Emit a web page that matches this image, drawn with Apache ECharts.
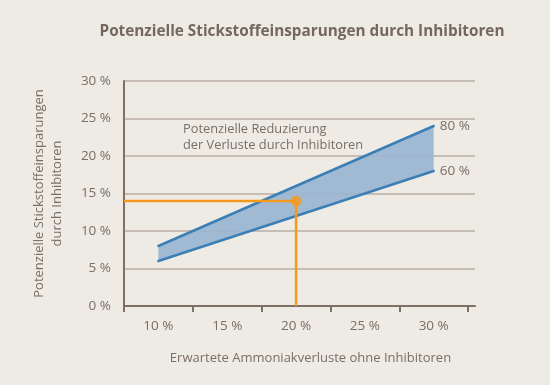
<!DOCTYPE html>
<html>
<head>
<meta charset="utf-8">
<script src="https://cdn.jsdelivr.net/npm/echarts@6/dist/echarts.min.js"></script>
<style>
html,body{margin:0;padding:0;background:#eeebe5;}
#c{width:550px;height:385px;}
</style>
</head>
<body>
<div id="c"></div>
<script>
// Data
var losses = [10, 15, 20, 25, 30];          // expected ammonia losses (%)
var upper80 = [8, 12, 16, 20, 24];          // 80 % reduction
var lower60 = [6, 9, 12, 15, 18];           // 60 % reduction
var xTickLabels = [10, 15, 20, 25, 30];
var xTickMarks = [7.5, 12.5, 17.5, 22.5, 27.5, 32.5];
var examplePoint = [20, 14];
var xMin = 7.5, xMax = 33;

var font = '"Open Sans", Lato, sans-serif';
var textColor = '#7a6e64';
var axisColor = '#7d7166';

var upperData = losses.map(function (x, i) { return [x, upper80[i]]; });
var lowerData = losses.map(function (x, i) { return [x, lower60[i]]; });
var orangePath = [[xMin, examplePoint[1]], examplePoint, [examplePoint[0], 0]];

var chart = echarts.init(document.getElementById('c'));
chart.setOption({
  backgroundColor: '#eeebe5',
  animation: false,
  textStyle: { fontFamily: font },
  title: {
    text: 'Potenzielle Stickstoffeinsparungen durch Inhibitoren',
    left: 297, top: 19, textAlign: 'center',
    textStyle: { fontFamily: font, fontSize: 15.3, fontWeight: 'bold', color: '#74685e' }
  },
  grid: { left: 124, right: 75, top: 81, bottom: 79 },
  xAxis: {
    type: 'value', min: xMin, max: xMax,
    name: 'Erwartete Ammoniakverluste ohne Inhibitoren',
    nameLocation: 'middle', nameGap: 46,
    nameTextStyle: { color: textColor, fontSize: 13, fontFamily: font, padding: [0, 0, 0, 22] },
    axisLine: { show: true, lineStyle: { color: axisColor, width: 2 } },
    axisTick: { show: true, customValues: xTickMarks, length: 6, lineStyle: { color: axisColor, width: 2 } },
    axisLabel: { customValues: xTickLabels, formatter: '{value} %', color: textColor, fontSize: 13.5, margin: 13 },
    splitLine: { show: false }
  },
  yAxis: {
    type: 'value', min: 0, max: 30, interval: 5,
    name: 'Potenzielle Stickstoffeinsparungen\ndurch Inhibitoren',
    nameLocation: 'middle', nameGap: 58, nameRotate: 90,
    nameTextStyle: { color: textColor, fontSize: 13, fontFamily: font, lineHeight: 18 },
    axisLine: { show: true, lineStyle: { color: axisColor, width: 2 } },
    axisTick: { show: false },
    axisLabel: { formatter: '{value} %', color: textColor, fontSize: 13.5, margin: 13 },
    splitLine: { show: true, lineStyle: { color: '#b9afa3', width: 1.5 } }
  },
  graphic: [{
    type: 'text', left: 183, top: 121,
    style: {
      text: 'Potenzielle Reduzierung\nder Verluste durch Inhibitoren',
      fill: textColor, font: '12.8px ' + font, lineHeight: 16
    }
  }],
  series: [
    {
      type: 'custom',
      data: [0],
      z: 2,
      renderItem: function (params, api) {
        var pts = [];
        for (var i = 0; i < losses.length; i++) pts.push(api.coord([losses[i], upper80[i]]));
        for (var j = losses.length - 1; j >= 0; j--) pts.push(api.coord([losses[j], lower60[j]]));
        return { type: 'polygon', shape: { points: pts }, style: { fill: '#9ab5d3', opacity: 0.92 } };
      }
    },
    {
      type: 'line', data: upperData, symbol: 'none',
      lineStyle: { color: '#3b7fb6', width: 2.5, cap: 'round' },
      endLabel: { show: true, formatter: '80 %', color: textColor, fontSize: 13.5, distance: 6 },
      z: 3
    },
    {
      type: 'line', data: lowerData, symbol: 'none',
      lineStyle: { color: '#3b7fb6', width: 2.5, cap: 'round' },
      endLabel: { show: true, formatter: '60 %', color: textColor, fontSize: 13.5, distance: 6 },
      z: 3
    },
    {
      type: 'line', data: orangePath, symbol: 'none',
      lineStyle: { color: '#f39a1e', width: 2.5 },
      z: 4
    },
    {
      type: 'scatter', data: [examplePoint], symbolSize: 11,
      itemStyle: { color: '#f39a1e' }, z: 5
    }
  ]
});
</script>
</body>
</html>
